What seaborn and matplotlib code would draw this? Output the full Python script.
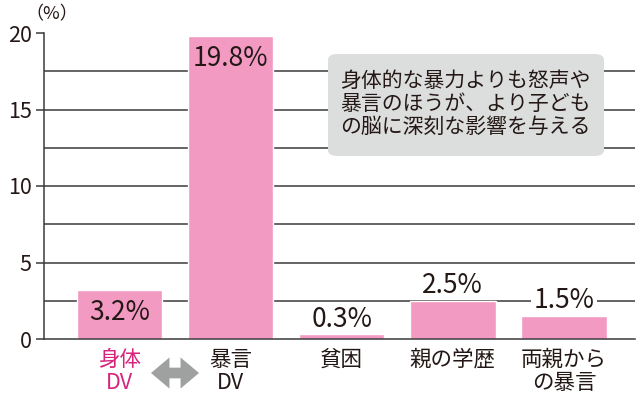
import matplotlib
matplotlib.use("Agg")
import matplotlib.pyplot as plt
import seaborn as sns
import pandas as pd
from matplotlib.patches import FancyArrowPatch, FancyBboxPatch

categories = ["身体\nDV", "暴言\nDV", "貧困", "親の学歴", "両親から\nの暴言"]
values = [3.2, 19.8, 0.3, 2.5, 1.5]
labels = ["3.2%", "19.8%", "0.3%", "2.5%", "1.5%"]
yticks = [0, 5, 10, 15, 20]
grid_levels = [2.5, 5, 7.5, 10, 12.5, 15, 17.5]
note = "身体的な暴力よりも怒声や\n暴言のほうが、より子ども\nの脳に深刻な影響を与える"

sns.set_theme(style="white")
plt.rcParams['font.family'] = ['Noto Sans CJK JP', 'DejaVu Sans']

TEXT = "#231815"
PINK = "#F29AC2"
MAGENTA = "#D7257D"

fig = plt.figure(figsize=(6.4, 3.94), dpi=100)
ax = fig.add_axes([44/640, 1-339/394, 591/640, (339-33)/394])

df = pd.DataFrame({"cat": categories, "val": values})
for g in grid_levels:
    ax.axhline(g, color="#3a3a3a", lw=1.1, zorder=0)

sns.barplot(data=df, x="cat", y="val", color=PINK, width=0.77, saturation=1,
            ax=ax, zorder=2)

ax.set_xlim(-0.68, 4.64)
ax.set_ylim(0, 20)
ax.set_yticks(yticks)
ax.set_yticklabels([str(t) for t in yticks], fontsize=15.5, color=TEXT)
ax.set_xlabel("")
ax.set_ylabel("")
for s in ["top", "right"]:
    ax.spines[s].set_visible(False)
ax.spines["left"].set_color("#3a3a3a")
ax.spines["bottom"].set_color("#3a3a3a")
ax.spines["left"].set_linewidth(1.1)
ax.spines["bottom"].set_linewidth(1.1)
ax.tick_params(axis="y", left=True, length=6, width=1.1, color="#3a3a3a", pad=3)
ax.tick_params(axis="x", bottom=False, pad=1)
ax.set_xticklabels(categories, fontsize=15.5, color=TEXT, linespacing=1.08)
ax.get_xticklabels()[0].set_color(MAGENTA)

# value labels
for i, (v, lab) in enumerate(zip(values, labels)):
    if i in (0, 1):
        ax.text(i, v - 1.45, lab, ha="center", va="center", fontsize=19, color=TEXT, zorder=3)
    else:
        ax.text(i, v + 0.12, lab, ha="center", va="bottom", fontsize=19, color=TEXT, zorder=3,
                bbox=dict(boxstyle="square,pad=0.1", fc="white", ec="none") if i == 4 else None)

# unit label
fig.text(25/640, 1-14/394, "（%）", fontsize=13, color=TEXT, ha="left", va="center")

# note box
box = FancyBboxPatch((328/640, 1-156/394), (604-328)/640, (156-54)/394,
                     boxstyle="round,pad=0,rounding_size=0.015", transform=fig.transFigure,
                     fc="#DCDDDD", ec="none", zorder=5)
fig.patches.append(box)
fig.text(465/640, 1-104/394, note, fontsize=15, color=TEXT, ha="center", va="center",
         linespacing=1.08, zorder=6)

# double arrow
cx, cy = 175/640, 1-373/394
for end in (151/640, 199/640):
    arr = FancyArrowPatch((cx, cy), (end, cy), transform=fig.transFigure,
                          arrowstyle="simple,head_width=1.6,head_length=0.95,tail_width=0.55",
                          mutation_scale=14, color="#9FA0A0", lw=0, shrinkA=0, shrinkB=0)
    fig.patches.append(arr)

fig.savefig("out.png", dpi=100)
